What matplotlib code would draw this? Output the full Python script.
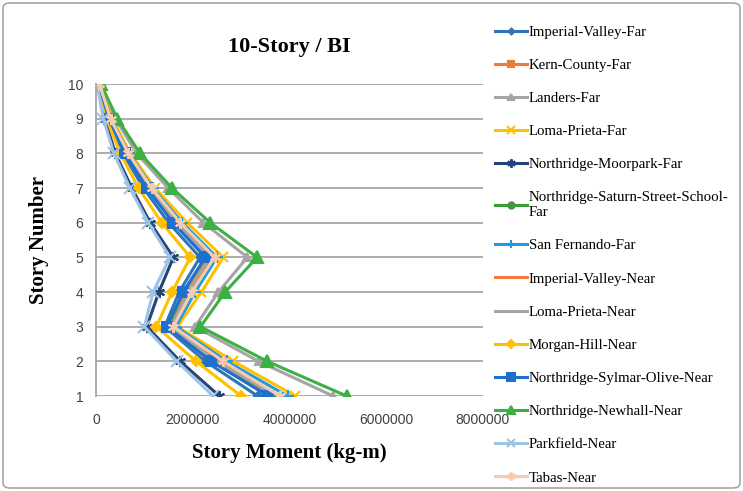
import matplotlib
matplotlib.use('Agg')
import matplotlib.pyplot as plt
from matplotlib.patches import FancyBboxPatch

# story moment per story (story 1 ... 10), kg-m
stories = [1, 2, 3, 4, 5, 6, 7, 8, 9, 10]

imperial_valley_far = [3340000, 2260000, 1420000, 1720000, 2150000, 1500000, 980000, 560000, 250000, 50000]
kern_county_far = [3600000, 2450000, 1500000, 1850000, 2300000, 1620000, 1070000, 620000, 280000, 60000]
landers_far = [4900000, 3360000, 2050000, 2530000, 3130000, 2220000, 1490000, 840000, 400000, 90000]
loma_prieta_far = [4120000, 2840000, 1680000, 2180000, 2630000, 1880000, 1220000, 710000, 330000, 80000]
northridge_moorpark_far = [2550000, 1740000, 1050000, 1300000, 1600000, 1120000, 740000, 400000, 180000, 30000]
northridge_saturn_far = [3620000, 2500000, 1520000, 1900000, 2350000, 1680000, 1100000, 640000, 290000, 60000]
san_fernando_far = [3960000, 2700000, 1650000, 2050000, 2500000, 1780000, 1170000, 680000, 310000, 70000]
imperial_valley_near = [3670000, 2550000, 1580000, 1950000, 2400000, 1700000, 1120000, 650000, 290000, 60000]
loma_prieta_near = [3730000, 2490000, 1550000, 1900000, 2350000, 1650000, 1090000, 630000, 280000, 60000]
morgan_hill_near = [3000000, 2070000, 1250000, 1570000, 1950000, 1360000, 880000, 500000, 220000, 40000]
northridge_sylmar_near = [3560000, 2380000, 1460000, 1800000, 2260000, 1590000, 1050000, 600000, 270000, 50000]
northridge_newhall_near = [5180000, 3540000, 2160000, 2670000, 3330000, 2360000, 1570000, 910000, 440000, 100000]
parkfield_near = [2420000, 1670000, 1000000, 1180000, 1530000, 1080000, 700000, 370000, 150000, 20000]
tabas_near = [3800000, 2630000, 1600000, 1980000, 2450000, 1740000, 1150000, 670000, 300000, 70000]

series = [
    ('Imperial-Valley-Far', imperial_valley_far, '#2E75B6', 'D', 4),
    ('Kern-County-Far', kern_county_far, '#ED7D31', 's', 5),
    ('Landers-Far', landers_far, '#A5A5A5', '^', 6),
    ('Loma-Prieta-Far', loma_prieta_far, '#FFC000', 'x', 7),
    ('Northridge-Moorpark-Far', northridge_moorpark_far, '#264478', (6, 2, 0), 8),
    ('Northridge-Saturn-Street-School-\nFar', northridge_saturn_far, '#3E9B35', 'o', 6),
    ('San Fernando-Far', san_fernando_far, '#1F9BDE', '+', 8),
    ('Imperial-Valley-Near', imperial_valley_near, '#F4793B', None, 0),
    ('Loma-Prieta-Near', loma_prieta_near, '#A5A5A5', None, 0),
    ('Morgan-Hill-Near', morgan_hill_near, '#FFC000', 'D', 5),
    ('Northridge-Sylmar-Olive-Near', northridge_sylmar_near, '#1F6FCF', 's', 7),
    ('Northridge-Newhall-Near', northridge_newhall_near, '#3CB043', '^', 8),
    ('Parkfield-Near', parkfield_near, '#9DC3E6', 'x', 8),
    ('Tabas-Near', tabas_near, '#F8CBAD', (6, 2, 0), 8),
]

fig = plt.figure(figsize=(7.43, 4.91), dpi=100)
ax = fig.add_axes([96 / 743, 1 - 396 / 491, 387 / 743, 312 / 491])

for name, vals, color, marker, ms in series:
    ax.plot(vals, stories, color=color, lw=2.2, marker=marker, markersize=ms,
            markeredgewidth=1.5, label=name)

ax.set_xlim(0, 8000000)
ax.set_ylim(1, 10)
ax.set_xticks([0, 2000000, 4000000, 6000000, 8000000])
ax.set_xticklabels(['0', '2000000', '4000000', '6000000', '8000000'])
ax.set_yticks(stories)
ax.tick_params(length=0, labelsize=10, labelcolor='#404040')
ax.tick_params(axis='x', pad=12)
ax.tick_params(axis='y', pad=9)
for lab in ax.get_xticklabels() + ax.get_yticklabels():
    lab.set_family('Liberation Sans')
ax.yaxis.grid(True, color='#A6A6A6', lw=1.3)
ax.set_axisbelow(True)
for s in ['top', 'right', 'bottom']:
    ax.spines[s].set_visible(False)
ax.spines['left'].set_color('#A6A6A6')
ax.spines['left'].set_linewidth(1.3)

ax.set_title('10-Story / BI', family='Liberation Serif', fontsize=16,
             fontweight='bold', pad=23)
ax.set_xlabel('Story Moment (kg-m)', family='Liberation Serif', fontsize=15,
              fontweight='bold', labelpad=12)
ax.set_ylabel('Story Number', family='Liberation Serif', fontsize=15,
              fontweight='bold', labelpad=14)

leg = fig.legend(loc='upper left', bbox_to_anchor=(482 / 743, 1 - 12 / 491),
                 frameon=False, prop={'family': 'Liberation Serif', 'size': 10.7},
                 labelspacing=1.33, handlelength=2.1, handletextpad=0.15,
                 markerscale=0.75)

border = FancyBboxPatch((3 / 743, 3 / 491), 737 / 743, 485 / 491,
                        boxstyle='round,pad=0,rounding_size=0.01',
                        transform=fig.transFigure, fill=False,
                        edgecolor='#A6A6A6', lw=1.2)
fig.patches.append(border)

fig.savefig('out.png', dpi=100)
